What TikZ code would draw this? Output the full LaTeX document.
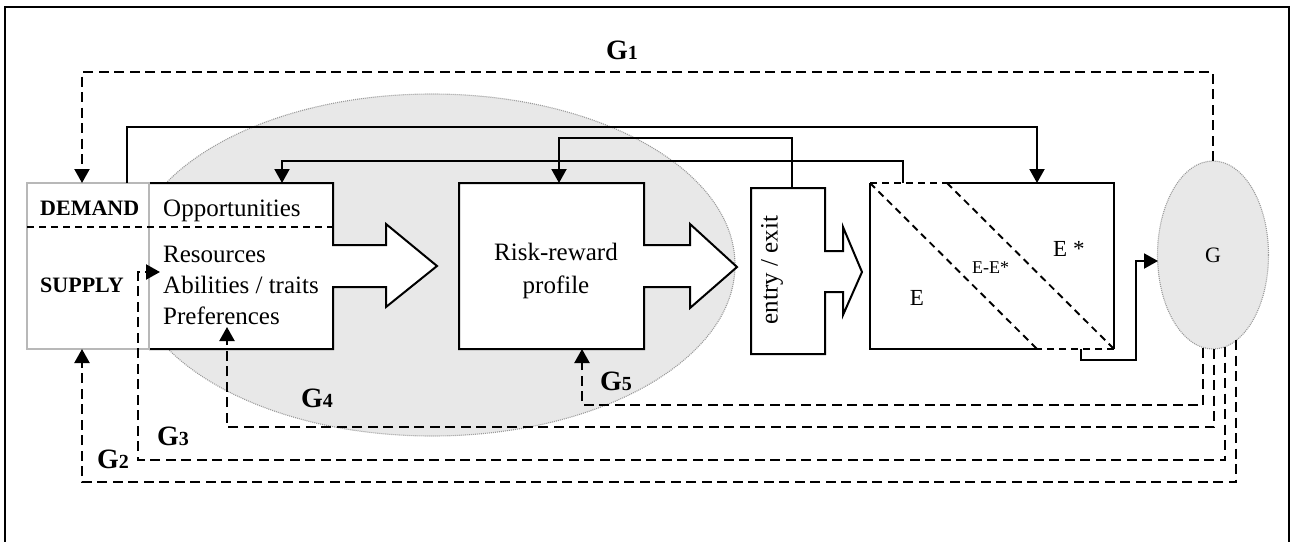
\documentclass[tikz,border=0pt]{standalone}
\usepackage{fontspec}
\setmainfont{Liberation Serif}
\usetikzlibrary{arrows.meta,shapes.geometric}
\definecolor{ellfill}{HTML}{E8E8E8}
\definecolor{ellline}{HTML}{9A9A9A}
\definecolor{boxgray}{HTML}{B8B8B8}
\begin{document}
\begin{tikzpicture}[x=1pt,y=-1pt,line join=miter,
 solidln/.style={line width=2pt},
 fbline/.style={line width=2.2pt,dash pattern=on 10pt off 5.5pt},
 inline/.style={line width=1.9pt,dash pattern=on 7pt off 5pt},
 tipend/.style={-{Triangle[length=14pt,width=15pt]}},
 blockarrow/.style={line width=2pt,fill=white},
 txt/.style={inner sep=0pt,font=\fontsize{25}{30}\selectfont},
 btxt/.style={inner sep=0pt,font=\fontsize{22}{26}\selectfont\bfseries},
 glab/.style={inner sep=0pt,font=\fontsize{28}{30}\selectfont\bfseries},
 cloud/.style={ellipse,draw=ellline,line width=1.1pt,dash pattern=on 1pt off 1pt,fill=ellfill,inner sep=0pt},
]
\useasboundingbox (0,0) rectangle (1292,541);
% frame
\draw[line width=1.8pt] (5,545) -- (5,7) -- (1289,7) -- (1289,545);

% big system ellipse
\node[cloud,minimum width=606pt,minimum height=342pt] (sys) at (432,265) {};
% G ellipse
\node[cloud,minimum width=111pt,minimum height=188pt,font=\fontsize{22}{24}\selectfont] (gov) at (1213,255) {G};

% block 1: opportunities / resources
\fill[white] (149,183) -- (333,183) -- (333,245) -- (386,245) -- (386,224) -- (437,266) -- (386,307) -- (386,287) -- (333,287) -- (333,349) -- (149,349) -- cycle;
\draw[blockarrow,fill=none] (149,183) -- (333,183) -- (333,245) -- (386,245) -- (386,224) -- (437,266) -- (386,307) -- (386,287) -- (333,287) -- (333,349) -- (149,349);
% demand / supply box
\node[draw=boxgray,fill=white,line width=1.8pt,minimum width=122pt,minimum height=166pt,inner sep=0pt] (ds) at (88,266) {};
\draw[boxgray,line width=1.8pt] (149,183) -- (149,349);
\draw[inline] (27,227) -- (333,227);

% block 2: risk-reward
\draw[blockarrow] (459,183) -- (644,183) -- (644,245) -- (690,245) -- (690,224) -- (737,267) -- (690,308) -- (690,287) -- (644,287) -- (644,349) -- (459,349) -- cycle;
% block 3: entry / exit
\draw[blockarrow] (751,188) -- (825,188) -- (825,251) -- (843,251) -- (843,227) -- (862,272) -- (843,315) -- (843,292) -- (825,292) -- (825,354) -- (751,354) -- cycle;

% E box
\fill[white] (870,183) rectangle (1114,349);
\draw[solidln] (947,183) -- (1114,183) -- (1114,349);
\draw[solidln] (1037,349) -- (870,349) -- (870,183);
\draw[inline] (870,183) -- (947,183);
\draw[inline] (1114,349) -- (1037,349);
\draw[inline] (870,183) -- (1037,349);
\draw[inline] (947,183) -- (1114,349);

% texts
\node[btxt,anchor=base west] (tdem) at (40,215) {DEMAND};
\node[btxt,anchor=base west] (tsup) at (40,292) {SUPPLY};
\node[txt,anchor=base west] (topp) at (163,216) {Opportunities};
\node[txt,anchor=base west] (tres) at (163,262) {Resources};
\node[txt,anchor=base west] (tabi) at (163,293) {Abilities / traits};
\node[txt,anchor=base west] (tpre) at (163,324) {Preferences};
\node[txt,anchor=base] (trr1) at (556,260) {Risk-reward};
\node[txt,anchor=base] (trr2) at (556,293) {profile};
\node[txt,rotate=90] (tent) at (772,270) {entry / exit};
\node[txt,anchor=base,font=\fontsize{23}{24}\selectfont] (tE) at (917,305) {E};
\node[txt,anchor=base west,font=\fontsize{18}{20}\selectfont] (tEE) at (972,273) {E-E*};
\node[txt,anchor=base west,font=\fontsize{23}{24}\selectfont] (tEs) at (1053,256) {E *};

% G labels
\node[glab,anchor=base west] (lg1) at (606,59) {G{\fontsize{20}{20}\selectfont 1}};
\node[glab,anchor=base west] (lg2) at (97,468) {G{\fontsize{20}{20}\selectfont 2}};
\node[glab,anchor=base west] (lg3) at (157,445) {G{\fontsize{20}{20}\selectfont 3}};
\node[glab,anchor=base west] (lg4) at (301,407) {G{\fontsize{20}{20}\selectfont 4}};
\node[glab,anchor=base west] (lg5) at (600,390) {G{\fontsize{20}{20}\selectfont 5}};

% connector anchor points
\coordinate (dTop) at (127,183);
\coordinate (dArr) at (82,183);
\coordinate (eArr) at (1037,183);
\coordinate (eOut) at (903,183);
\coordinate (oArr) at (282,183);
\coordinate (xOut) at (792,188);
\coordinate (rArr) at (559,183);
\coordinate (eBot) at (1081,349);
\coordinate (gIn) at (1158,261);
\coordinate (gTop) at (1213,161);
\coordinate (g5s) at (1203,348);
\coordinate (g4s) at (1214,349);
\coordinate (g3s) at (1225,347);
\coordinate (g2s) at (1236,340);
\coordinate (r5) at (582,349);
\coordinate (p4) at (227,327);
\coordinate (s3) at (160,272);
\coordinate (s2) at (82,349);

% solid connectors
\draw[solidln,tipend] (dTop) -- (127,127) -| (eArr);
\draw[solidln,tipend] (eOut) -- (903,161) -| (oArr);
\draw[solidln,tipend] (xOut) -- (792,138) -| (rArr);
\draw[solidln,tipend] (eBot) -- (1081,360) -| (1136,261) -- (gIn);

% dashed feedback loops
\draw[fbline,tipend] (gTop) -- (1213,72) -| (dArr);
\draw[fbline,tipend] (g5s) -- (1203,405) -| (r5);
\draw[fbline,tipend] (g4s) -- (1214,427) -| (p4);
\draw[fbline,tipend] (g3s) -- (1225,460) -| (138,272) -- (s3);
\draw[fbline,tipend] (g2s) -- (1236,482) -| (s2);
\end{tikzpicture}
\end{document}
